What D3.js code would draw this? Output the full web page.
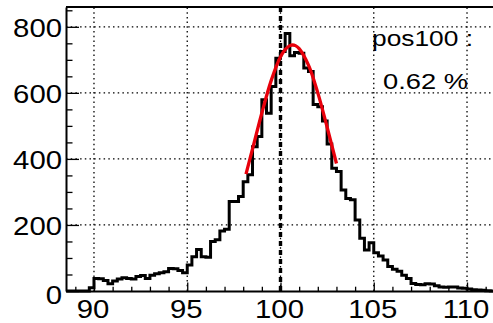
<!DOCTYPE html>
<html><head><meta charset="utf-8">
<script src="https://cdn.jsdelivr.net/npm/d3@7"></script>
<style>body{margin:0;background:#fff}svg{display:block}</style>
</head><body>
<svg id="c" width="493" height="323"></svg>
<script>
// ---- data ----
const binStart = 88.5;
const binWidth = 0.25;
const counts = [
  0,0,0,0,0,10,
  38,37,32,22,30,36,40,38,36,44,47,38,48,52,55,58,68,67,62,55,
  79,104,126,104,102,150,155,182,187,271,271,286,331,352,437,468,579,538,619,705,
  725,780,712,722,720,675,665,565,558,515,445,372,362,306,280,276,215,160,124,146,
  116,106,94,74,66,60,48,38,23,20,19,22,21,16,12,11,12,12,9,8,
  6,4,3,2,1,0
];
const fitX = [98.15,98.5,99.0,99.5,100.0,100.25,100.5,100.65,100.8,101.0,101.5,102.0,102.5,103.0];
const fitY = [354,430,539,637,709,731,743,745,743,734,684,600,496,386];
const xMajor = [90,95,100,105,110];
const xMinor = [89,91,92,93,94,96,97,98,99,101,102,103,104,106,107,108,109,111];
const yMajor = [0,200,400,600,800];
const yMinor = [50,100,150,250,300,350,450,500,550,650,700,750,850];
const markerX = 100;
const textLines = ["pos100 :", "0.62 %"];

// ---- chart ----
const svg = d3.select("#c");
const x = d3.scaleLinear().domain([88.5,111.5]).range([66,495]);
const y = d3.scaleLinear().domain([0,860]).range([291,7]);
const FONT = "'Liberation Sans', Arial, Helvetica, sans-serif";

// grid
const g = svg.append("g");
g.selectAll("line.gx").data(xMajor).join("line")
  .attr("x1", d=>x(d)).attr("x2", d=>x(d)).attr("y1", y(0)).attr("y2", y(860))
  .attr("stroke","#000").attr("stroke-width",1.3).attr("stroke-dasharray","1.5,3.2");
g.selectAll("line.gy").data(yMajor.filter(d=>d>0)).join("line")
  .attr("x1", x(88.5)).attr("x2", x(111.5)).attr("y1", d=>y(d)).attr("y2", d=>y(d))
  .attr("stroke","#000").attr("stroke-width",1.3).attr("stroke-dasharray","1.5,3.2");

// histogram step outline
const pts = [[x(binStart), y(0)]];
counts.forEach((c,i)=>{
  const lo = binStart + i*binWidth, hi = lo + binWidth;
  pts.push([x(lo), y(c)]); pts.push([x(hi), y(c)]);
});
pts.push([x(binStart + counts.length*binWidth), y(0)]);
svg.append("path").attr("d", d3.line()(pts))
  .attr("fill","none").attr("stroke","#000").attr("stroke-width",3).attr("stroke-linejoin","miter");

// marker vertical dashed line
svg.append("line").attr("x1", x(markerX)).attr("x2", x(markerX)).attr("y1", y(0)).attr("y2", y(860))
  .attr("stroke","#000").attr("stroke-width",3.4).attr("stroke-dasharray","5,4");

// fit curve
svg.append("path")
  .attr("d", d3.line().x(d=>x(d[0])).y(d=>y(d[1])).curve(d3.curveCatmullRom)(fitX.map((v,i)=>[v,fitY[i]])))
  .attr("fill","none").attr("stroke","#e8000b").attr("stroke-width",3.3);

// axes
const SX = 1.15;
const yAx = svg.append("g").attr("transform","translate(66,0)")
  .call(d3.axisLeft(y).tickValues(yMajor).tickSize(-13).tickSizeOuter(0).tickPadding(0).tickFormat(d3.format("d")));
svg.append("g").attr("transform","translate(66,0)")
  .call(d3.axisLeft(y).tickValues(yMinor).tickSize(-6.5).tickSizeOuter(0).tickFormat(""))
  .select(".domain").remove();
const xAx = svg.append("g").attr("transform","translate(0,291)")
  .call(d3.axisBottom(x).tickValues(xMajor).tickSize(-8.5).tickSizeOuter(0).tickFormat(d3.format("d")));
svg.append("g").attr("transform","translate(0,291)")
  .call(d3.axisBottom(x).tickValues(xMinor).tickSize(-4.3).tickSizeOuter(0).tickFormat(""))
  .select(".domain").remove();
svg.selectAll(".tick line").attr("stroke","#000").attr("stroke-width",1.3);
svg.selectAll(".domain").attr("stroke","#000").attr("stroke-width",2);

yAx.selectAll("text")
  .attr("font-family",FONT).attr("font-size",25.5).attr("fill","#000")
  .attr("x", -4/SX).attr("dy", d => d===0 ? "0.5em" : "0.36em")
  .attr("transform",`scale(${SX},1)`);
xAx.selectAll("text")
  .attr("font-family",FONT).attr("font-size",25.5).attr("fill","#000")
  .attr("y", 27).attr("dy", 0).attr("x", -1.5/SX)
  .attr("transform",`scale(${SX},1)`);

// top frame
svg.append("line").attr("x1",66).attr("x2",495).attr("y1",y(860)).attr("y2",y(860))
  .attr("stroke","#000").attr("stroke-width",2);

// annotation text
const tpos = [[422.5,46,101],[425.5,89,85]];
svg.selectAll("text.ann").data(textLines).join("text").attr("class","ann")
  .attr("x",(d,i)=>tpos[i][0]).attr("y",(d,i)=>tpos[i][1])
  .attr("text-anchor","middle").attr("font-family",FONT).attr("font-size",22.5)
  .attr("textLength",(d,i)=>tpos[i][2]).attr("lengthAdjust","spacingAndGlyphs")
  .attr("fill","#000").text(d=>d);
</script>
</body></html>
